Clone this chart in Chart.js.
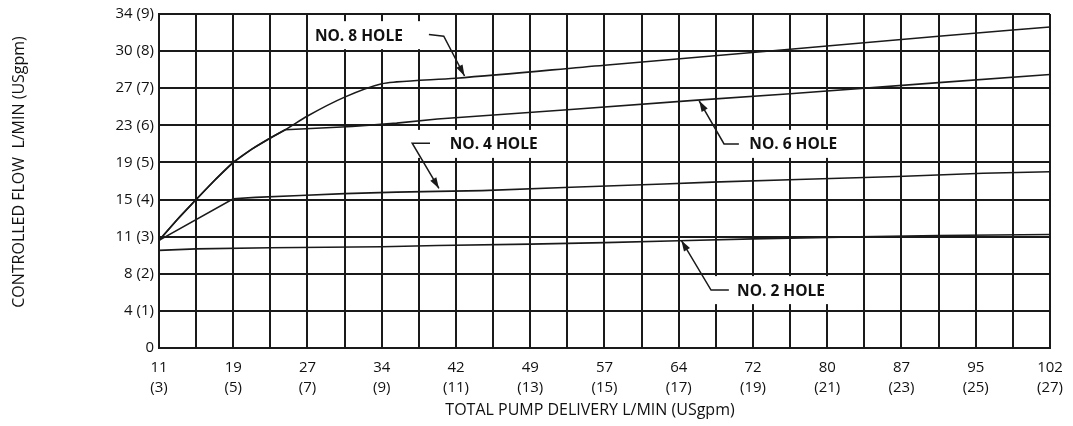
<!DOCTYPE html>
<html>
<head>
<meta charset="utf-8">
<script src="https://cdn.jsdelivr.net/npm/chart.js@4.4.0/dist/chart.umd.min.js"></script>
<style>
html, body { margin: 0; padding: 0; background: #fff; }
#wrap { width: 1073px; height: 426px; }
</style>
</head>
<body>
<div id="wrap"><canvas id="chart" width="1073" height="426"></canvas></div>
<script>
// Achsen: Pumpenförderung in USgpm, Beschriftung L/min + (USgpm)
const xTickGpm = [3, 5, 7, 9, 11, 13, 15, 17, 19, 21, 23, 25, 27];
const xTickLmin = ['11', '19', '27', '34', '42', '49', '57', '64', '72', '80', '87', '95', '102'];
const yTickLabels = ['0', '4 (1)', '8 (2)', '11 (3)', '15 (4)', '19 (5)', '23 (6)', '27 (7)', '30 (8)', '34 (9)'];

// Kurven (x = USgpm Gesamtförderung, y = USgpm geregelter Strom)
const hole8Gpm  = [3, 3.5, 4, 4.5, 5, 5.5, 6, 6.4, 7, 8, 9, 9.4, 11, 15, 20, 24, 27];
const hole8Flow = [2.9, 3.47, 4.0, 4.52, 5.0, 5.36, 5.66, 5.88, 6.25, 6.76, 7.12, 7.17, 7.27, 7.62, 8.05, 8.4, 8.65];

const hole6Gpm  = [3, 3.5, 4, 4.5, 5, 5.5, 6, 6.4, 8.2, 9.4, 10.5, 14, 17.5, 20, 24, 27];
const hole6Flow = [2.9, 3.47, 4.0, 4.52, 5.0, 5.36, 5.66, 5.88, 5.97, 6.06, 6.17, 6.42, 6.68, 6.85, 7.15, 7.37];

const hole4Gpm  = [3, 5, 5.6, 6.8, 8, 9.4, 10.5, 11.7, 14.1, 16.6, 17.9, 20.2, 22.9, 25.2, 27];
const hole4Flow = [2.9, 4.02, 4.06, 4.11, 4.16, 4.2, 4.22, 4.24, 4.33, 4.42, 4.47, 4.54, 4.62, 4.71, 4.75];

const hole2Gpm  = [3, 4, 6, 9, 10.5, 13, 15, 17, 19, 21, 24, 27];
const hole2Flow = [2.63, 2.67, 2.7, 2.73, 2.76, 2.8, 2.84, 2.89, 2.94, 2.98, 3.03, 3.06];

// Beschriftungen mit Hinweislinien (in Datenkoordinaten)
const notes = [
    { text: 'NO. 8 HOLE', x: 7.2,  y: 8.43, padL: 6, padR: 49, leader: [[10.27, 8.45], [10.67, 8.40], [11.23, 7.33]] },
    { text: 'NO. 6 HOLE', x: 18.9, y: 5.5,  padL: 30, padR: 8, leader: [[18.62, 5.5], [18.22, 5.5], [17.55, 6.66]] },
    { text: 'NO. 4 HOLE', x: 10.83, y: 5.5, padL: 43, padR: 6, leader: [[10.3, 5.52], [9.82, 5.52], [10.54, 4.3]] },
    { text: 'NO. 2 HOLE', x: 18.57, y: 1.56, padL: 28, padR: 13, leader: [[18.35, 1.56], [17.87, 1.56], [17.07, 2.9]] }
];

const INK = '#1a1a1a';
const FONT = '"Open Sans", "Noto Sans", sans-serif';

function toPoints(xs, ys) {
    return xs.map((x, i) => ({ x: x, y: ys[i] }));
}

function curve(data, smooth) {
    return {
        data: data,
        borderColor: INK,
        borderWidth: 1.6,
        pointRadius: 0,
        tension: smooth ? 0.4 : 0,
        cubicInterpolationMode: smooth ? 'monotone' : 'default',
        fill: false
    };
}

// Hinweise, Pfeile und Achsentitel zeichnen
const notesPlugin = {
    id: 'notes',
    afterDatasetsDraw(chart) {
        const ctx = chart.ctx;
        const xs = chart.scales.x;
        const ys = chart.scales.y;
        ctx.save();
        ctx.font = 'bold 15.5px ' + FONT;
        ctx.textBaseline = 'middle';
        notes.forEach(n => {
            const px = xs.getPixelForValue(n.x);
            const py = ys.getPixelForValue(n.y);
            const w = ctx.measureText(n.text).width;
            // weißer Kasten unterbricht das Gitter
            ctx.fillStyle = '#fff';
            ctx.fillRect(px - n.padL, py - 14, w + n.padL + n.padR, 28);
            ctx.fillStyle = '#111';
            ctx.fillText(n.text, px, py + 1);

            const pts = n.leader.map(p => [xs.getPixelForValue(p[0]), ys.getPixelForValue(p[1])]);
            ctx.strokeStyle = INK;
            ctx.lineWidth = 1.5;
            ctx.beginPath();
            ctx.moveTo(pts[0][0], pts[0][1]);
            for (let i = 1; i < pts.length; i++) ctx.lineTo(pts[i][0], pts[i][1]);
            ctx.stroke();

            // Pfeilspitze
            const a = pts[pts.length - 2], b = pts[pts.length - 1];
            const ang = Math.atan2(b[1] - a[1], b[0] - a[0]);
            const len = 11, half = 3.5;
            ctx.fillStyle = INK;
            ctx.beginPath();
            ctx.moveTo(b[0], b[1]);
            ctx.lineTo(b[0] - len * Math.cos(ang) + half * Math.sin(ang), b[1] - len * Math.sin(ang) - half * Math.cos(ang));
            ctx.lineTo(b[0] - len * Math.cos(ang) - half * Math.sin(ang), b[1] - len * Math.sin(ang) + half * Math.cos(ang));
            ctx.closePath();
            ctx.fill();
        });

        // Achsentitel
        ctx.fillStyle = '#111';
        ctx.font = '16px ' + FONT;
        ctx.textAlign = 'center';
        ctx.fillText('TOTAL PUMP DELIVERY L/MIN (USgpm)', 590, 410);
        ctx.translate(19, 172);
        ctx.rotate(-Math.PI / 2);
        ctx.fillText('CONTROLLED FLOW  L/MIN (USgpm)', 0, 0);
        ctx.restore();
    }
};

new Chart(document.getElementById('chart'), {
    type: 'line',
    data: {
        datasets: [
            curve(toPoints(hole8Gpm, hole8Flow), true),
            curve(toPoints(hole6Gpm, hole6Flow), false),
            curve(toPoints(hole4Gpm, hole4Flow), false),
            curve(toPoints(hole2Gpm, hole2Flow), false)
        ]
    },
    options: {
        responsive: false,
        animation: false,
        layout: { padding: { top: 13, right: 14, left: 0, bottom: 0 } },
        plugins: {
            legend: { display: false },
            tooltip: { enabled: false }
        },
        scales: {
            x: {
                type: 'linear',
                min: 3,
                max: 27,
                afterFit(scale) { scale.height = 78; },
                grid: { color: INK, lineWidth: 2, drawTicks: false },
                border: { color: INK, width: 2 },
                ticks: {
                    stepSize: 1,
                    autoSkip: false,
                    maxRotation: 0,
                    padding: 10,
                    color: '#111',
                    font: { family: FONT, size: 15, lineHeight: 1.33 },
                    callback(value) {
                        const i = xTickGpm.indexOf(value);
                        return i < 0 ? '' : [xTickLmin[i], '(' + value + ')'];
                    }
                }
            },
            y: {
                type: 'linear',
                min: 0,
                max: 9,
                afterFit(scale) { scale.width = 159; },
                grid: { color: INK, lineWidth: 2, drawTicks: false },
                border: { color: INK, width: 2 },
                ticks: {
                    stepSize: 1,
                    padding: 5,
                    color: '#111',
                    font: { family: FONT, size: 15 },
                    callback(value) {
                        return yTickLabels[value];
                    }
                }
            }
        }
    },
    plugins: [notesPlugin]
});
</script>
</body>
</html>
